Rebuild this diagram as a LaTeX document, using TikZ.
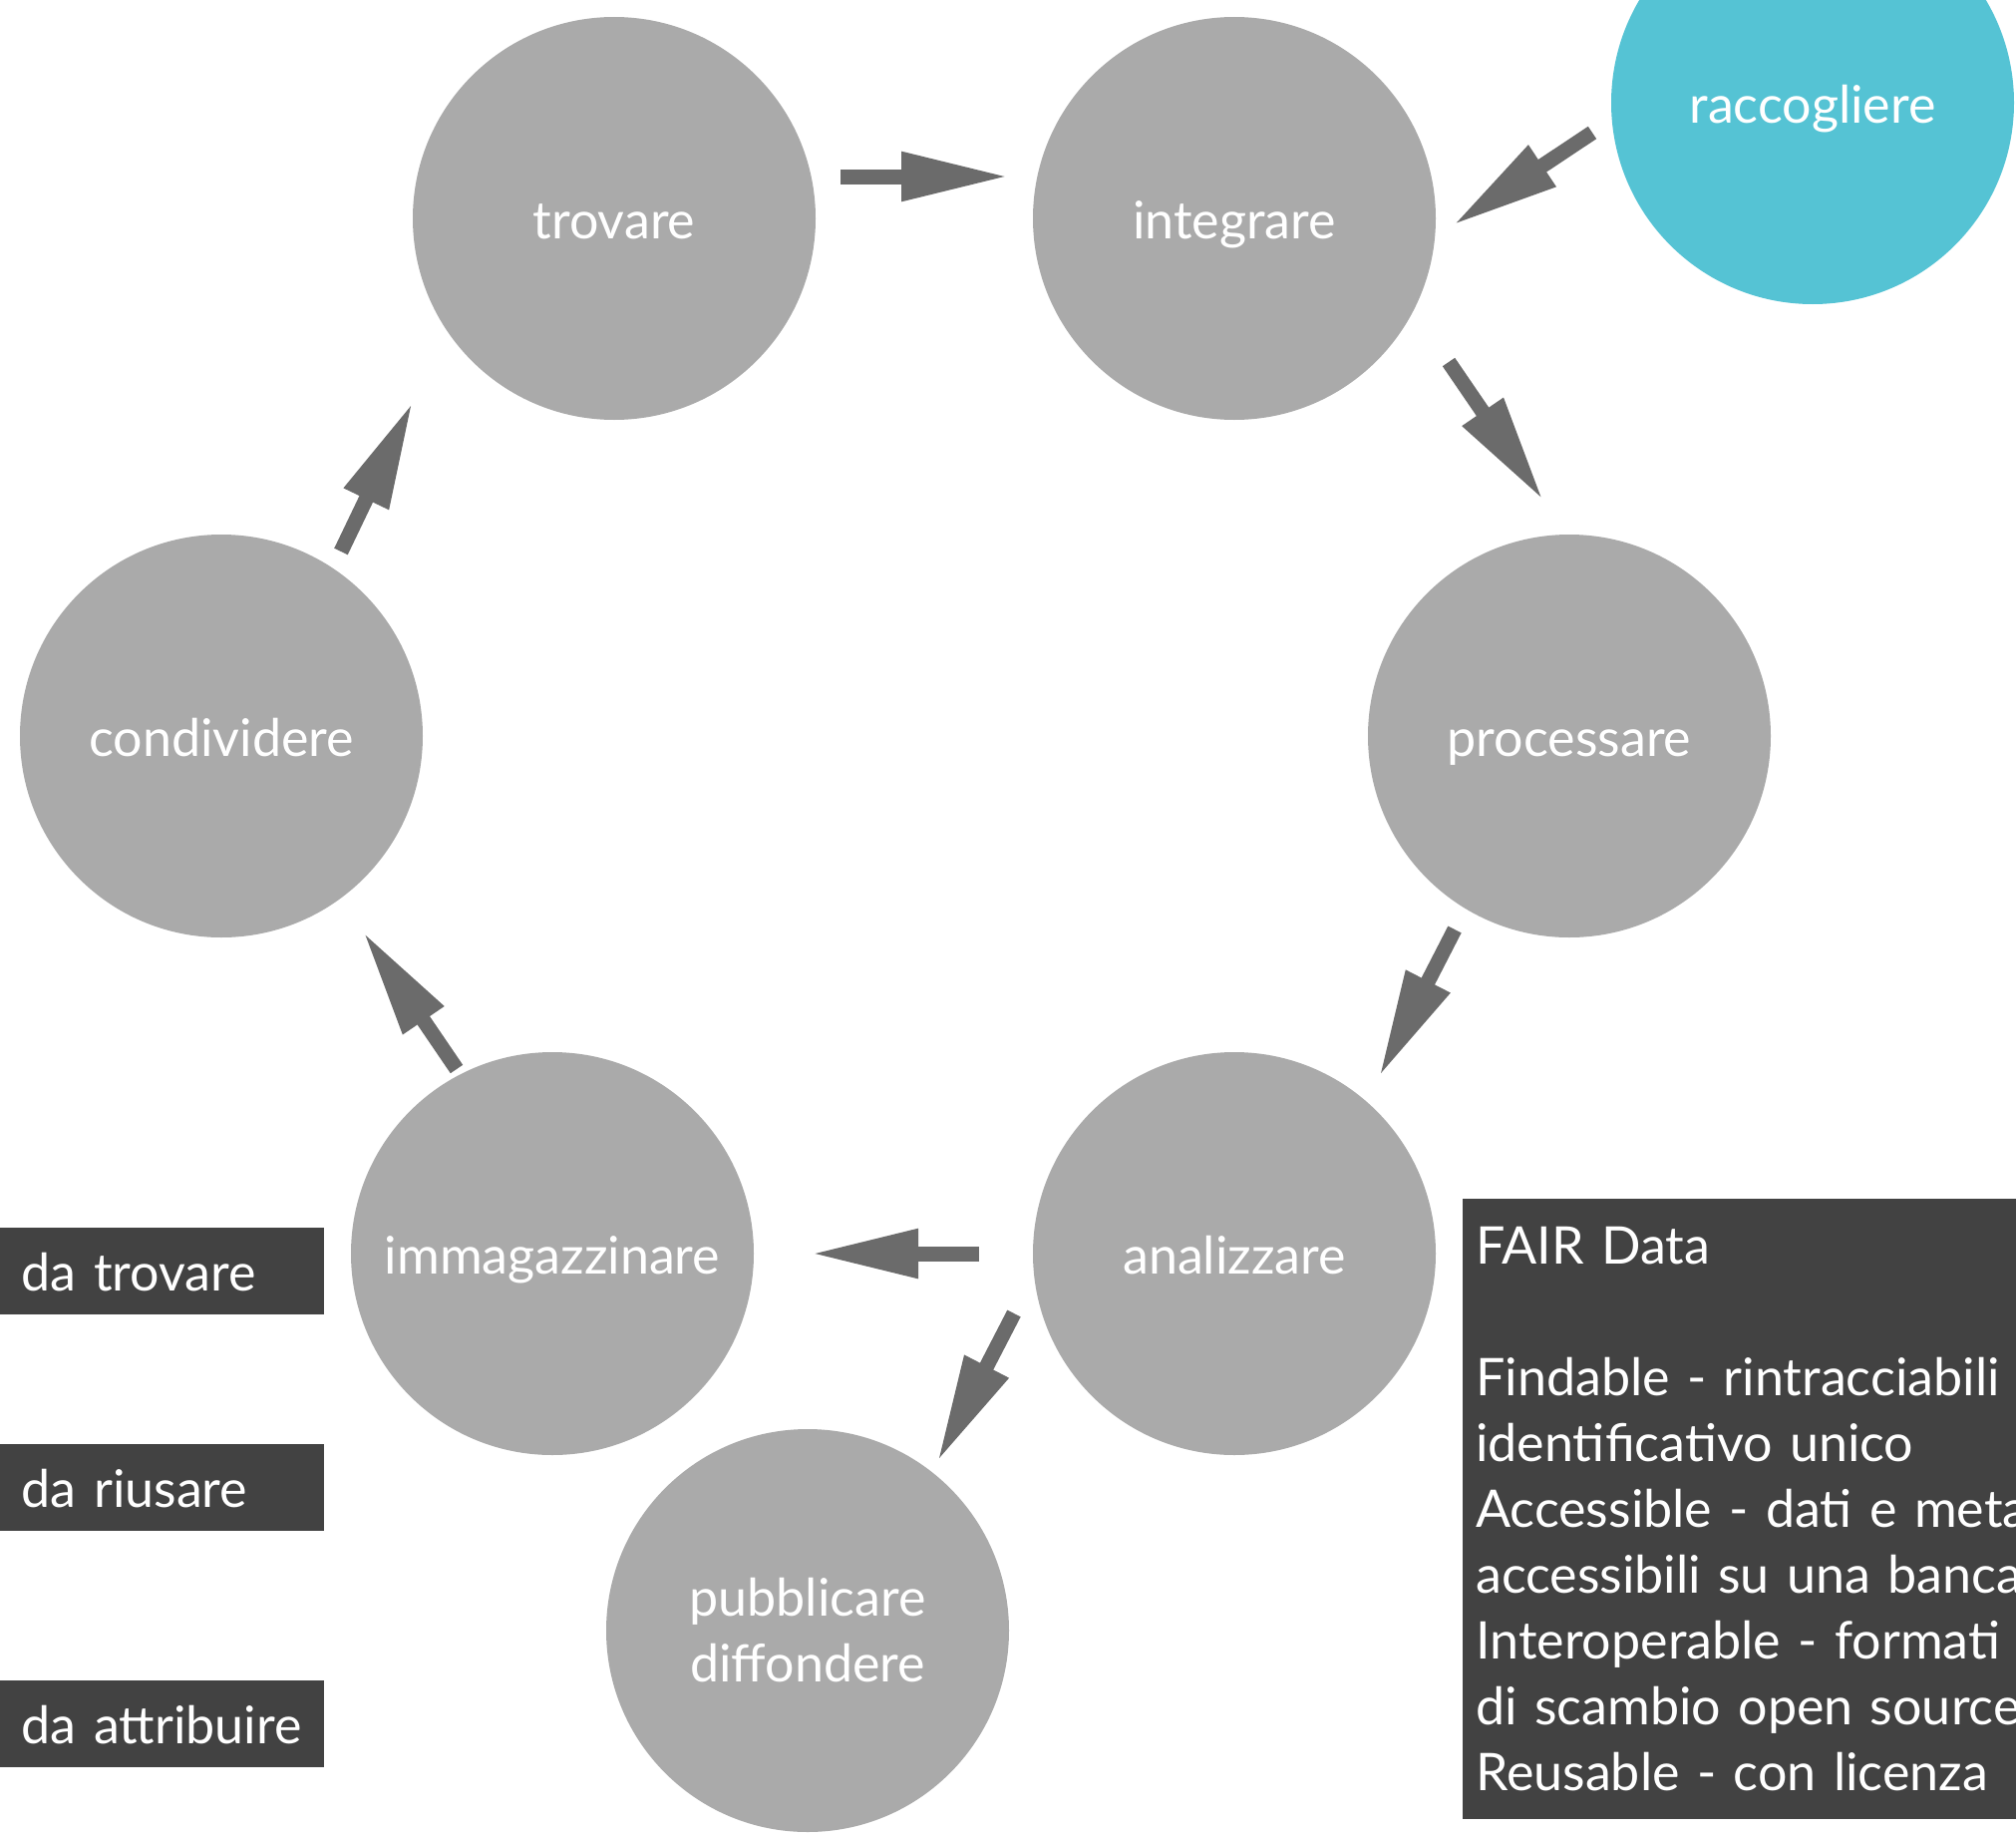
\documentclass[tikz,border=0pt]{standalone}
\usepackage{fontspec}
\setmainfont{Lato}
\usetikzlibrary{arrows.meta}
\definecolor{cgray}{HTML}{AAAAAA}
\definecolor{cteal}{HTML}{55C3D4}
\definecolor{carrow}{HTML}{6B6B6B}
\definecolor{cdark}{HTML}{424242}
\begin{document}
\begin{tikzpicture}[x=1pt,y=-1pt,
  stage/.style={circle, fill=cgray, minimum size=404pt, inner sep=0pt, text=white,
    font=\fontsize{52}{66}\selectfont, align=center, text height=46pt, text depth=5pt},
  flow/.style={draw=carrow, line width=15pt, -{Triangle[length=108pt,width=46pt]}},
  tag/.style={fill=cdark, text=white, font=\fontsize{52}{66}\selectfont, align=left,
    inner xsep=22pt, inner ysep=0pt, text width=281pt, minimum height=87pt, anchor=east,
    text height=42pt, text depth=3pt}]
\useasboundingbox (0,0) rectangle (2022,1844);
\clip (0,0) rectangle (2022,1844);

% stages
\node[stage] (trovare) at (616,219) {trovare};
\node[stage] (integrare) at (1238,219) {integrare};
\node[stage, fill=cteal] (raccogliere) at (1818,103) {raccogliere};
\node[stage] (processare) at (1574,738) {processare};
\node[stage] (condividere) at (222,738) {condividere};
\node[stage] (analizzare) at (1238,1257) {analizzare};
\node[stage] (immagazzinare) at (554,1257) {immagazzinare};
\node[stage, text height=, text depth=] (pubblicare) at (810,1635) {pubblicare\\diffondere};

% arrow end points
\coordinate (tr-s) at (843,177);   \coordinate (tr-e) at (1012,177);
\coordinate (ra-s) at (1597,133);  \coordinate (ra-e) at (1457,226);
\coordinate (in-s) at (1453,363);  \coordinate (in-e) at (1548,502);
\coordinate (pr-s) at (1459,932);  \coordinate (pr-e) at (1383,1080);
\coordinate (an-s) at (1017,1317); \coordinate (an-e) at (940,1466);
\coordinate (am-s) at (982,1257);  \coordinate (am-e) at (813,1257);
\coordinate (im-s) at (458,1072);  \coordinate (im-e) at (364,934);
\coordinate (co-s) at (342,553);   \coordinate (co-e) at (414,403);

\draw[flow] (tr-s) -- (tr-e);
\draw[flow] (ra-s) -- (ra-e);
\draw[flow] (in-s) -- (in-e);
\draw[flow] (pr-s) -- (pr-e);
\draw[flow] (an-s) -- (an-e);
\draw[flow] (am-s) -- (am-e);
\draw[flow] (im-s) -- (im-e);
\draw[flow] (co-s) -- (co-e);

% left tags
\node[tag] (t1) at (325,1274.5) {da trovare};
\node[tag] (t2) at (325,1491.5) {da riusare};
\node[tag] (t3) at (325,1728.5) {da attribuire};

% FAIR box
\node[fill=cdark, text=white, font=\fontsize{52}{66}\selectfont, align=left,
  anchor=north west, text width=700pt, inner xsep=13pt, inner ysep=0pt,
  minimum height=622pt] (fair) at (1467,1202)
  {FAIR Data\\[66pt]
   Findable - rintracciabili\\
   identificativo unico\\
   Accessible - dati e meta\\
   accessibili su una banca\\
   Interoperable - formati\\
   di scambio open source\\
   Reusable - con licenza};
\end{tikzpicture}
\end{document}
